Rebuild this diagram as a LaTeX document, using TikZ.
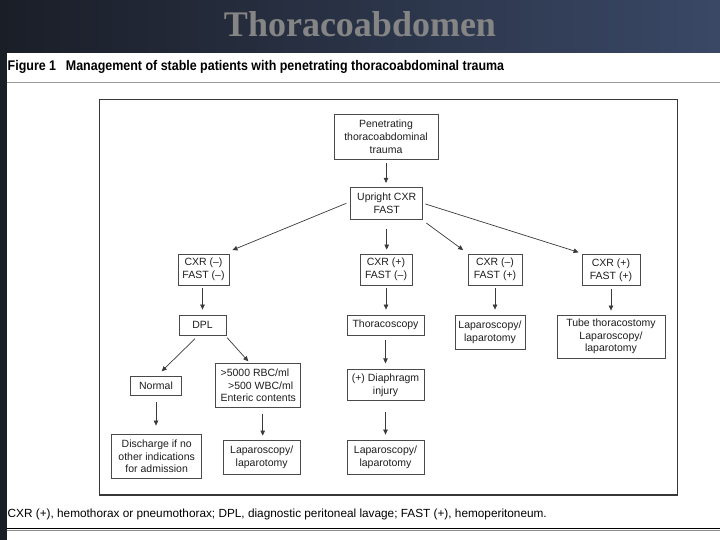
\documentclass[tikz,border=0pt]{standalone}
\usepackage{fontspec}
\setmainfont{Liberation Sans}
\newfontfamily\titlefont{Liberation Serif}
\newfontfamily\capfont[FakeStretch=0.89]{Liberation Sans}
\usetikzlibrary{arrows.meta}
\definecolor{boxline}{HTML}{4A4A4A}
\definecolor{arrcol}{HTML}{3A3A3A}
\definecolor{bgleft}{HTML}{1A1E27}
\definecolor{bgmid}{HTML}{0D0E13}
\definecolor{bgright}{HTML}{3A4866}
\definecolor{titlegray}{HTML}{858585}
\definecolor{txt}{HTML}{1E1E1E}
\begin{document}
\begin{tikzpicture}[x=1pt,y=-1pt,
  box/.style={draw=boxline, line width=0.8pt, fill=white, align=center, inner sep=0pt,
    text=txt, font=\fontsize{10.5}{12.7}\selectfont},
  arr/.style={draw=arrcol, line width=0.7pt, -{Triangle[length=5pt,width=4.5pt]}},
]
\useasboundingbox (0,0) rectangle (720,540);
% slide background
\shade[left color=bgleft, middle color=bgmid, right color=bgright] (0,0) rectangle (720,540);
\fill[white] (6.5,53.5) rectangle (720,540);
% title
\node[anchor=base, inner sep=0pt, text=titlegray, font=\titlefont\bfseries\fontsize{36}{40}\selectfont] (title) at (360,37) {Thoracoabdomen};
% caption
\node[anchor=base west, inner sep=0pt, text=black, font=\capfont\bfseries\fontsize{14}{16}\selectfont] (cap) at (7.5,70.7) {Figure 1\hspace{0.45em} Management of stable patients with penetrating thoracoabdominal trauma};
\draw[draw=black!40, line width=1.3pt] (6.5,82.7) -- (720,82.7);
% frame
\draw[draw=black!78, line width=1.2pt] (99.5,99.8) rectangle (677.2,495);
% nodes
\node[box, minimum width=104pt, minimum height=45pt] (pen) at (386,136.7) {Penetrating\\thoracoabdominal\\trauma};
\node[box, minimum width=72pt, minimum height=32pt] (up) at (386.7,203.3) {Upright CXR\\FAST};
\node[box, minimum width=51pt, minimum height=31pt] (c1) at (203.5,269.5) {CXR (–)\\FAST (–)};
\node[box, minimum width=52pt, minimum height=31pt] (c2) at (386,269.5) {CXR (+)\\FAST (–)};
\node[box, minimum width=54pt, minimum height=31pt] (c3) at (495,269.5) {CXR (–)\\FAST (+)};
\node[box, minimum width=58pt, minimum height=31pt] (c4) at (611,270) {CXR (+)\\FAST (+)};
\node[box, minimum width=47pt, minimum height=20pt] (dpl) at (202.5,325) {DPL};
\node[box, minimum width=77pt, minimum height=20pt] (thor) at (385.5,325) {Thoracoscopy};
\node[box, minimum width=70pt, minimum height=34pt] (lap1) at (490,332) {Laparoscopy/\\laparotomy};
\node[box, minimum width=108pt, minimum height=43pt] (tube) at (611,336.5) {Tube thoracostomy\\Laparoscopy/\\laparotomy};
\node[box, minimum width=51pt, minimum height=19pt] (normal) at (156,385.5) {Normal};
\node[box, minimum width=85pt, minimum height=44pt, align=left] (rbc) at (258.3,385.3) {>5000 RBC/ml\\\hspace*{7.5pt}>500 WBC/ml\\Enteric contents};
\node[box, minimum width=77pt, minimum height=31pt] (dia) at (385.5,385.3) {(+) Diaphragm\\injury};
\node[box, minimum width=90pt, minimum height=44pt] (disch) at (156.7,456.3) {Discharge if no\\other indications\\for admission};
\node[box, minimum width=77pt, minimum height=34pt] (lap2) at (261.7,457) {Laparoscopy/\\laparotomy};
\node[box, minimum width=77pt, minimum height=34pt] (lap3) at (385.5,457) {Laparoscopy/\\laparotomy};
% connectors
\draw[arr] ([yshift=-3.4pt]pen.south) -- ([yshift=4pt]pen.south |- up.north);
\draw[arr] ([xshift=-4pt]up.west) -- ([xshift=3pt,yshift=3.5pt]c1.north east);
\draw[arr] ([yshift=-9pt]up.south) -- ([yshift=4pt]up.south |- c2.north);
\draw[arr] ([xshift=3.3pt,yshift=-3.4pt]up.south east) -- ([xshift=-4.4pt,yshift=3.5pt]c3.north west);
\draw[arr] ([xshift=2.3pt,yshift=-0.7pt]up.east) -- ([xshift=-3pt,yshift=1.8pt]c4.north west);
\draw[arr] ([xshift=-1pt,yshift=-3pt]c1.south) -- ([xshift=-1pt,yshift=5pt]c1.south |- dpl.north);
\draw[arr] ([yshift=-3pt]c2.south) -- ([yshift=5pt]c2.south |- thor.north);
\draw[arr] ([yshift=-3pt]c3.south) -- ([yshift=5pt]c3.south |- lap1.north);
\draw[arr] ([yshift=-3.5pt]c4.south) -- ([yshift=4pt]c4.south |- tube.north);
\draw[arr] ([xshift=-7.5pt,yshift=-3.3pt]dpl.south) -- ([xshift=5.7pt,yshift=4.3pt]normal.north);
\draw[arr] ([xshift=0.7pt,yshift=-2.3pt]dpl.south east) -- ([xshift=-10pt,yshift=1.6pt]rbc.north);
\draw[arr] ([yshift=-5pt]thor.south) -- ([yshift=6pt]thor.south |- dia.north);
\draw[arr] ([yshift=-6.7pt]normal.south) -- ([yshift=8.3pt]normal.south |- disch.north);
\draw[arr] ([xshift=4.4pt,yshift=-6pt]rbc.south) -- ([xshift=4.4pt,yshift=4pt]rbc.south |- lap2.north);
\draw[arr] ([yshift=-11pt]dia.south) -- ([yshift=5pt]dia.south |- lap3.north);
% footnote
\node[anchor=base west, inner sep=0pt, text=black, font=\fontsize{11.8}{14}\selectfont] (foot) at (7.5,517.5) {CXR (+), hemothorax or pneumothorax; DPL, diagnostic peritoneal lavage; FAST (+), hemoperitoneum.};
\draw[draw=black, line width=1.4pt] (6.5,528.3) -- (720,528.3);
\draw[draw=black!45, line width=1.2pt] (6.5,530.4) -- (720,530.4);
\end{tikzpicture}
\end{document}
